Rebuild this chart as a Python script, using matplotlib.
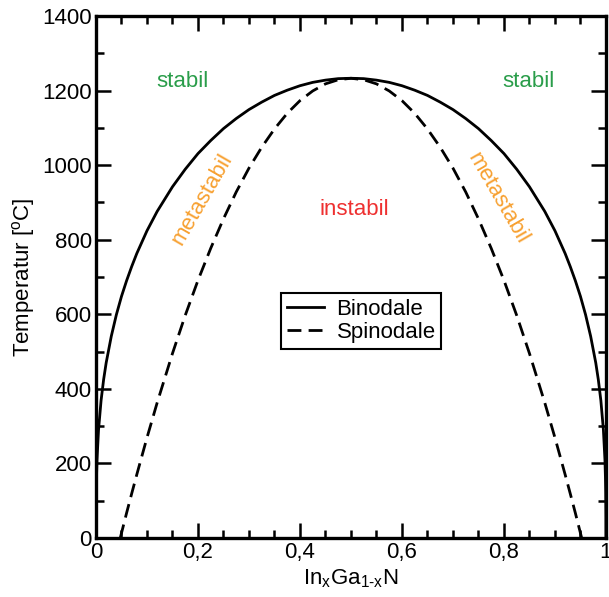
import matplotlib

matplotlib.use("Agg")
import matplotlib.pyplot as plt
from matplotlib.ticker import FixedLocator, MultipleLocator

# values (In fraction x, temperature in degC)
binodal_x = [0.0, 0.0001, 0.0005, 0.001, 0.002, 0.005, 0.01, 0.015, 0.02, 0.03,
             0.04, 0.05, 0.06, 0.07, 0.08, 0.10, 0.12, 0.15, 0.175, 0.20, 0.225,
             0.25, 0.275, 0.30, 0.325, 0.35, 0.375, 0.40, 0.425, 0.45, 0.475, 0.50,
             0.525, 0.55, 0.575, 0.60, 0.625, 0.65, 0.675, 0.70, 0.725, 0.75,
             0.775, 0.80, 0.825, 0.85, 0.88, 0.90, 0.92, 0.93, 0.94, 0.95, 0.96,
             0.97, 0.98, 0.985, 0.99, 0.995, 0.998, 0.999, 0.9995, 0.9999, 1.0]
binodal_t = [-60, 54, 123, 162, 210, 290, 369, 425, 470, 541,
             599, 648, 690, 728, 763, 824, 876, 942, 989, 1031, 1066,
             1098, 1125, 1149, 1169, 1187, 1201, 1213, 1222, 1228, 1232, 1233,
             1232, 1228, 1222, 1213, 1201, 1187, 1169, 1149, 1125, 1098,
             1066, 1031, 989, 942, 876, 824, 763, 728, 690, 648, 599,
             541, 470, 425, 369, 290, 210, 162, 123, 54, -60]

spinodal_x = [0.0476, 0.05, 0.06, 0.07, 0.08, 0.10, 0.12, 0.15, 0.175, 0.20,
              0.225, 0.25, 0.275, 0.30, 0.325, 0.35, 0.375, 0.40, 0.425, 0.45,
              0.475, 0.50, 0.525, 0.55, 0.575, 0.60, 0.625, 0.65, 0.675, 0.70,
              0.725, 0.75, 0.775, 0.80, 0.825, 0.85, 0.88, 0.90, 0.92, 0.93,
              0.94, 0.95, 0.9524]
spinodal_t = [0, 13, 67, 119, 170, 269, 363, 495, 597, 691,
              777, 856, 928, 992, 1048, 1097, 1139, 1173, 1199, 1218,
              1229, 1233, 1229, 1218, 1199, 1173, 1139, 1097, 1048, 992,
              928, 856, 777, 691, 597, 495, 363, 269, 170, 119,
              67, 13, 0]

x_ticks = [0, 0.2, 0.4, 0.6, 0.8, 1.0]
x_tick_labels = ["0", "0,2", "0,4", "0,6", "0,8", "1"]
y_ticks = [0, 200, 400, 600, 800, 1000, 1200, 1400]

GREEN = "#2a9d4a"
RED = "#ee3030"
ORANGE = "#f7a030"

plt.rcParams.update(
    {
        "font.family": "sans-serif",
        "font.sans-serif": ["Liberation Sans", "DejaVu Sans"],
        "font.size": 16,
        "mathtext.fontset": "custom",
        "mathtext.rm": "Liberation Sans",
        "mathtext.it": "Liberation Sans",
    }
)

fig = plt.figure(figsize=(6.09, 5.97), dpi=100)
ax = fig.add_axes([0.1576, 0.0988, 0.8374, 0.8744])

ax.plot(binodal_x, binodal_t, color="black", linewidth=2.0, label="Binodale")
ax.plot(spinodal_x, spinodal_t, color="black", linewidth=2.0,
        dashes=(5, 2.6), label="Spinodale")

ax.set_xlim(0, 1)
ax.set_ylim(0, 1400)
ax.set_xticks(x_ticks, x_tick_labels)
ax.xaxis.set_minor_locator(MultipleLocator(0.05))
ax.yaxis.set_major_locator(FixedLocator(y_ticks))
ax.yaxis.set_minor_locator(MultipleLocator(100))
ax.tick_params(which="both", direction="in", top=True, right=True, width=1.8,
               labelsize=16, pad=3)
ax.tick_params(which="major", length=11)
ax.tick_params(which="minor", length=6)
for spine in ax.spines.values():
    spine.set_linewidth(2.4)

ax.set_xlabel(r"In$_{\mathrm{x}}$Ga$_{\mathrm{1\text{-}x}}$N", fontsize=16, labelpad=3)
ax.set_ylabel(r"Temperatur [$^{\mathrm{o}}$C]", fontsize=16, labelpad=4)

ax.text(0.17, 1223, "stabil", color=GREEN, fontsize=16, ha="center", va="center")
ax.text(0.849, 1223, "stabil", color=GREEN, fontsize=16, ha="center", va="center")
ax.text(0.506, 880, "instabil", color=RED, fontsize=16, ha="center", va="center")
ax.text(0.208, 909, "metastabil", color=ORANGE, fontsize=16, ha="center",
        va="center", rotation=60)
ax.text(0.788, 912, "metastabil", color=ORANGE, fontsize=16, ha="center",
        va="center", rotation=-60)

leg = ax.legend(loc="center", bbox_to_anchor=(0.52, 0.416), fontsize=16,
                fancybox=False, framealpha=1, edgecolor="black",
                handlelength=1.7, handletextpad=0.55, borderpad=0.25,
                labelspacing=0.1, borderaxespad=0)
leg.get_frame().set_linewidth(1.5)

fig.savefig("out.png", dpi=100)
